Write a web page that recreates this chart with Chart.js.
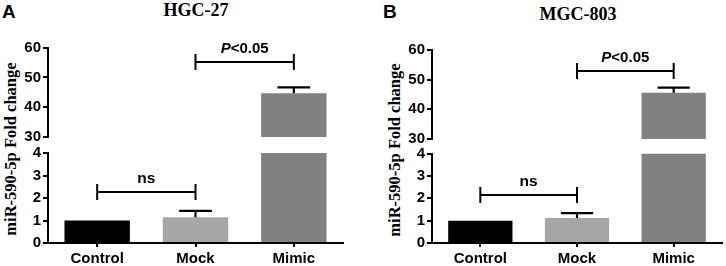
<!DOCTYPE html>
<html>
<head>
<meta charset="utf-8">
<script src="https://cdn.jsdelivr.net/npm/chart.js@4.4.1/dist/chart.umd.min.js"></script>
<style>
  html, body { margin: 0; padding: 0; background: #fff; }
  #root { position: relative; width: 726px; height: 266px; overflow: hidden; background: #fff; }
  .box { position: absolute; }
  .box canvas { display: block; }
  .panel { position: absolute; font-family: "Liberation Sans", Arial, sans-serif; font-weight: bold; font-size: 19px; line-height: 19px; color: #000; }
  .title { position: absolute; font-family: "Liberation Serif", "Times New Roman", serif; font-weight: bold; font-size: 18px; line-height: 18px; color: #000; transform: translateX(-50%); white-space: nowrap; }
  .ytitle { position: absolute; font-family: "Liberation Serif", "Times New Roman", serif; font-weight: bold; font-size: 16.5px; line-height: 16.5px; color: #000; white-space: nowrap; transform: translate(-50%, -50%) rotate(-90deg); }
</style>
</head>
<body>
<div id="root">
  <div class="panel" style="left:2px; top:2px;">A</div>
  <div class="title" style="left:196px; top:1px;">HGC-27</div>
  <div class="ytitle" style="left:11px; top:149px;">miR-590-5p Fold change</div>

  <div class="panel" style="left:383px; top:2px;">B</div>
  <div class="title" style="left:578px; top:5px;">MGC-803</div>
  <div class="ytitle" style="left:395px; top:150px;">miR-590-5p Fold change</div>

  <div class="box" style="left:0px; top:20px; width:350px; height:130px;"><canvas id="aTop" width="350" height="130"></canvas></div>
  <div class="box" style="left:0px; top:140px; width:350px; height:126px;"><canvas id="aBot" width="350" height="126"></canvas></div>
  <div class="box" style="left:384px; top:20px; width:342px; height:130px;"><canvas id="bTop" width="342" height="130"></canvas></div>
  <div class="box" style="left:384px; top:140px; width:342px; height:126px;"><canvas id="bBot" width="342" height="126"></canvas></div>
</div>
<script>
// ---- data ----
const categories = ['Control', 'Mock', 'Mimic'];
const hgcMeans = [1.0, 1.15, 44.7];
const hgcErrors = [0, 0.28, 2.0];
const mgcMeans = [1.0, 1.12, 45.6];
const mgcErrors = [0, 0.22, 1.7];
const upperTicks = [30, 40, 50, 60];
const lowerTicks = [0, 1, 2, 3, 4];
const sigPairs = [[0, 1], [1, 2]];
const sigLabels = ['ns', 'P<0.05'];
const hgcSigLevels = [2.25, 55.2];
const mgcSigLevels = [2.17, 52.9];

// ---- style ----
const barColors = ['#000000', '#a6a6a6', '#818181'];
const FONT = "'Liberation Sans', Arial, sans-serif";
Chart.defaults.font.family = FONT;
Chart.defaults.font.weight = 'bold';
Chart.defaults.color = '#000';

function annotPlugin(errors, levels) {
  return {
    id: 'annot',
    afterDatasetsDraw(chart) {
      const ctx = chart.ctx;
      const x = chart.scales.x, y = chart.scales.y;
      const area = chart.chartArea;
      const meta = chart.getDatasetMeta(0);
      const vals = chart.data.datasets[0].data;
      // error bars
      ctx.save();
      ctx.beginPath();
      ctx.rect(area.left, area.top - 2, area.right - area.left, area.bottom - area.top + 2);
      ctx.clip();
      ctx.strokeStyle = '#000';
      ctx.lineWidth = 2.2;
      errors.forEach((e, i) => {
        if (!e) return;
        const el = meta.data[i];
        const cx = x.getPixelForValue(i);
        const y0 = y.getPixelForValue(vals[i]);
        const y1 = y.getPixelForValue(vals[i] + e);
        const half = el.width * 0.25;
        ctx.beginPath();
        ctx.moveTo(cx, y0);
        ctx.lineTo(cx, y1);
        ctx.moveTo(cx - half, y1);
        ctx.lineTo(cx + half, y1);
        ctx.stroke();
      });
      ctx.restore();
      // significance brackets
      ctx.save();
      ctx.strokeStyle = '#000';
      ctx.fillStyle = '#000';
      ctx.lineWidth = 2;
      sigPairs.forEach((p, k) => {
        const lv = levels[k];
        if (lv < y.min || lv > y.max) return;
        const x0 = x.getPixelForValue(p[0]);
        const x1 = x.getPixelForValue(p[1]);
        const yy = Math.round(y.getPixelForValue(lv));
        ctx.beginPath();
        ctx.moveTo(x0, yy); ctx.lineTo(x1, yy);
        ctx.moveTo(x0, yy - 8); ctx.lineTo(x0, yy + 8);
        ctx.moveTo(x1, yy - 8); ctx.lineTo(x1, yy + 8);
        ctx.stroke();
        const label = sigLabels[k];
        const cx = (x0 + x1) / 2;
        const base = yy - 9.5;
        ctx.textBaseline = 'alphabetic';
        ctx.textAlign = 'left';
        if (label.charAt(0) === 'P') {
          ctx.font = 'italic bold 15px ' + FONT;
          const wP = ctx.measureText('P').width;
          ctx.font = 'bold 15px ' + FONT;
          const rest = label.slice(1);
          const wR = ctx.measureText(rest).width;
          const sx = cx - (wP + wR) / 2;
          ctx.font = 'italic bold 15px ' + FONT;
          ctx.fillText('P', sx, base);
          ctx.font = 'bold 15px ' + FONT;
          ctx.fillText(rest, sx + wP, base);
        } else {
          ctx.font = 'bold 15.5px ' + FONT;
          ctx.textAlign = 'center';
          ctx.fillText(label, cx, base);
        }
      });
      ctx.restore();
    }
  };
}

function makeChart(id, means, errors, levels, ticks, isTop, padding) {
  const yMin = ticks[0], yMax = ticks[ticks.length - 1];
  return new Chart(document.getElementById(id), {
    type: 'bar',
    data: {
      labels: categories,
      datasets: [{
        data: means,
        backgroundColor: barColors,
        borderWidth: 0,
        barPercentage: 0.665,
        categoryPercentage: 1.0,
        clip: 0
      }]
    },
    options: {
      responsive: false,
      animation: false,
      devicePixelRatio: 1,
      layout: { padding: padding },
      plugins: { legend: { display: false }, tooltip: { enabled: false }, title: { display: false } },
      scales: {
        x: {
          display: !isTop,
          offset: true,
          grid: { display: true, drawOnChartArea: false, offset: false, drawTicks: true, tickLength: 4, color: '#000', lineWidth: 2 },
          border: { display: true, color: '#000', width: 2 },
          ticks: { font: { size: 15, weight: 'bold' }, color: '#000', padding: 3, maxRotation: 0, autoSkip: false },
          afterFit(s) { s.height = isTop ? 0 : 23; }
        },
        y: {
          min: yMin,
          max: yMax,
          grid: { display: true, drawOnChartArea: false, drawTicks: true, tickLength: 5, color: '#000', lineWidth: 2 },
          border: { display: true, color: '#000', width: 2 },
          ticks: { font: { size: 15, weight: 'bold' }, color: '#000', padding: 2 },
          afterBuildTicks(s) { s.ticks = ticks.map(v => ({ value: v })); },
          afterFit(s) { s.width = 48; }
        }
      }
    },
    plugins: [annotPlugin(errors, levels)]
  });
}

makeChart('aTop', hgcMeans, hgcErrors, hgcSigLevels, upperTicks, true, { top: 27.7, bottom: 13, left: 0, right: 7 });
makeChart('aBot', hgcMeans, hgcErrors, hgcSigLevels, lowerTicks, false, { top: 13, bottom: 0, left: 0, right: 7 });
makeChart('bTop', mgcMeans, mgcErrors, mgcSigLevels, upperTicks, true, { top: 30, bottom: 11, left: 0, right: 4 });
makeChart('bBot', mgcMeans, mgcErrors, mgcSigLevels, lowerTicks, false, { top: 13.7, bottom: 0, left: 0, right: 4 });
</script>
</body>
</html>
